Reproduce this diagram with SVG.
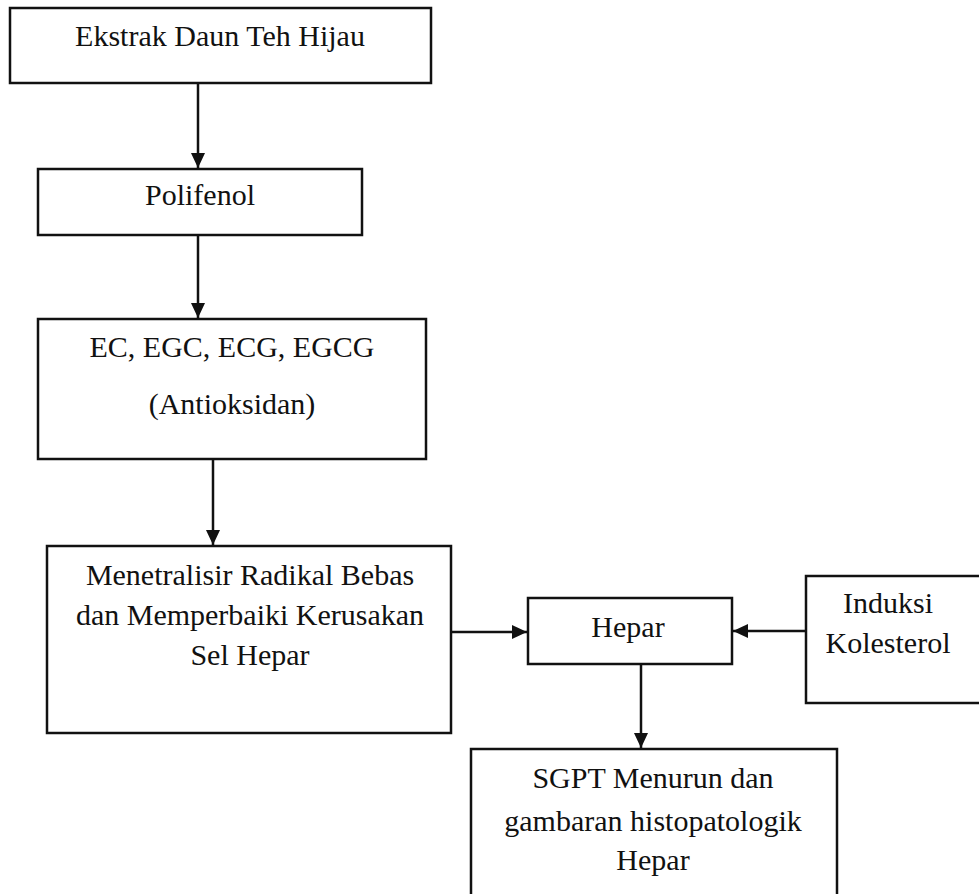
<svg xmlns="http://www.w3.org/2000/svg" width="979" height="894" viewBox="0 0 979 894">
<style>
.box{fill:#fff;stroke:#111;stroke-width:2.5}
.t{font-family:"Liberation Serif","Times New Roman",serif;font-size:30px;fill:#111;text-anchor:middle}
.c{stroke:#111;stroke-width:2.5;fill:none}
</style>
<defs>
<marker id="ah" viewBox="0 0 10 10" refX="10" refY="5" markerWidth="15" markerHeight="14" markerUnits="userSpaceOnUse" orient="auto" preserveAspectRatio="none">
<path d="M0,0 L10,5 L0,10 Z" fill="#111"/>
</marker>
</defs>
<rect width="979" height="894" fill="#fff"/>
<g id="n1"><rect class="box" x="10" y="8" width="421" height="75"/><text class="t" x="220" y="46">Ekstrak Daun Teh Hijau</text></g>
<g id="n2"><rect class="box" x="38" y="169" width="324" height="66"/><text class="t" x="200" y="205">Polifenol</text></g>
<g id="n3"><rect class="box" x="38" y="319" width="388" height="140"/><text class="t" x="232" y="357">EC, EGC, ECG, EGCG</text><text class="t" x="232" y="414">(Antioksidan)</text></g>
<g id="n4"><rect class="box" x="47" y="546" width="404" height="187"/><text class="t" x="250" y="585">Menetralisir Radikal Bebas</text><text class="t" x="250" y="625">dan Memperbaiki Kerusakan</text><text class="t" x="250" y="665">Sel Hepar</text></g>
<g id="n5"><rect class="box" x="528" y="598" width="204" height="66"/><text class="t" x="628" y="637">Hepar</text></g>
<g id="n6"><rect class="box" x="806" y="576" width="185" height="127"/><text class="t" x="888" y="613">Induksi</text><text class="t" x="888" y="653">Kolesterol</text></g>
<g id="n7"><rect class="box" x="471" y="749" width="366" height="160"/><text class="t" x="653" y="788">SGPT Menurun dan</text><text class="t" x="653" y="831">gambaran histopatologik</text><text class="t" x="653" y="870">Hepar</text></g>
<g id="connectors">
<line class="c" x1="198" y1="83" x2="198" y2="168" marker-end="url(#ah)"/>
<line class="c" x1="198" y1="235" x2="198" y2="318" marker-end="url(#ah)"/>
<line class="c" x1="213" y1="459" x2="213" y2="545" marker-end="url(#ah)"/>
<line class="c" x1="451" y1="632" x2="527" y2="632" marker-end="url(#ah)"/>
<line class="c" x1="806" y1="631" x2="733" y2="631" marker-end="url(#ah)"/>
<line class="c" x1="641" y1="664" x2="641" y2="748" marker-end="url(#ah)"/>
</g>
</svg>
